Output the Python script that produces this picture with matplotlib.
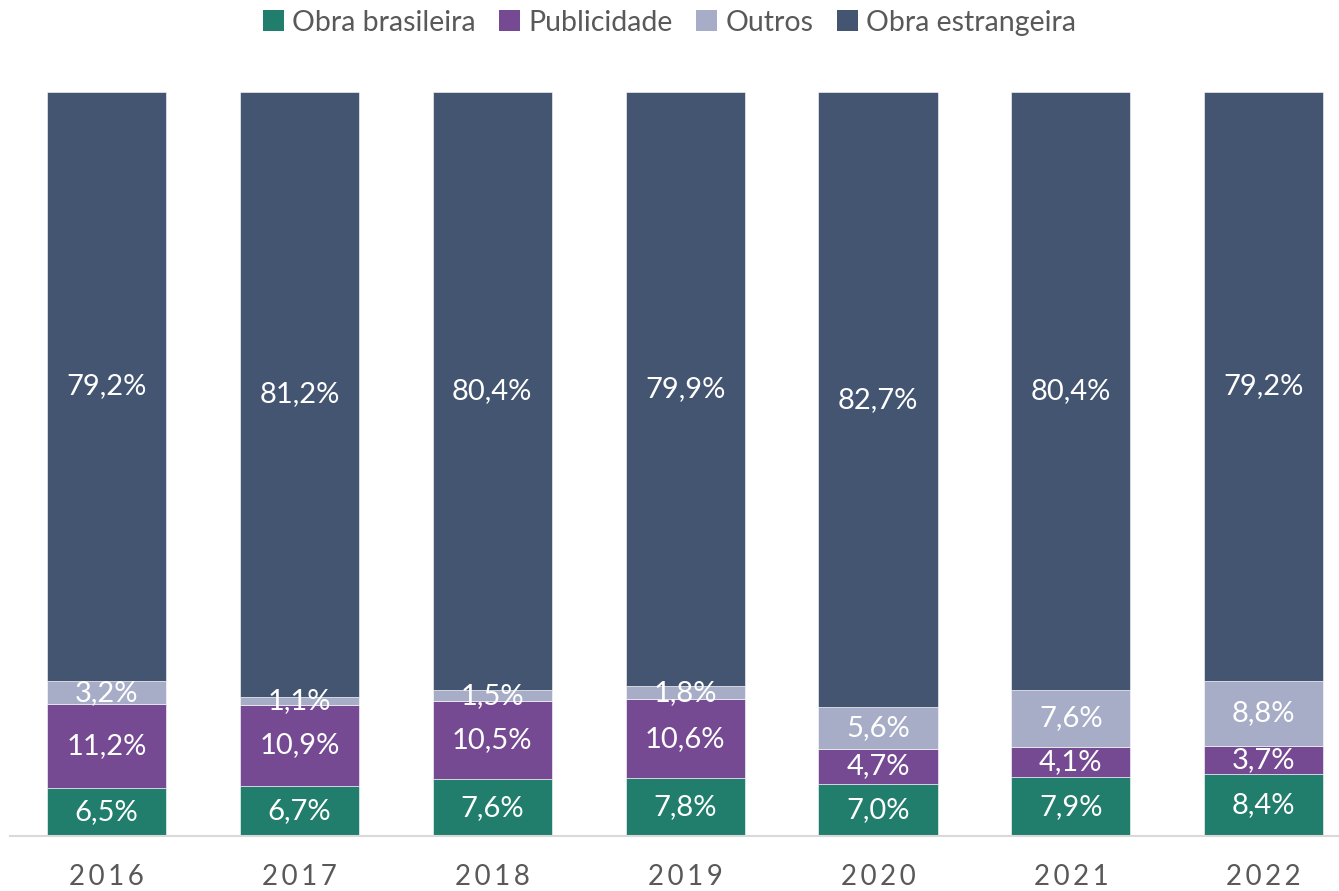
import numpy as np
import matplotlib
matplotlib.use("Agg")
import matplotlib.pyplot as plt
from matplotlib.patches import Patch

plt.rcParams['font.family'] = ['Lato', 'DejaVu Sans']

years = [2016, 2017, 2018, 2019, 2020, 2021, 2022]
series_names = ["Obra brasileira", "Publicidade", "Outros", "Obra estrangeira"]
obra_brasileira = [6.5, 6.7, 7.6, 7.8, 7.0, 7.9, 8.4]
publicidade = [11.2, 10.9, 10.5, 10.6, 4.7, 4.1, 3.7]
outros = [3.2, 1.1, 1.5, 1.8, 5.6, 7.6, 8.8]
obra_estrangeira = [79.2, 81.2, 80.4, 79.9, 82.7, 80.4, 79.2]
colors = ["#217D6C", "#754A92", "#A8ADC7", "#445572"]

fig = plt.figure(figsize=(13.39, 8.91), dpi=100)
ax = fig.add_axes([10 / 1339, 1 - 836 / 891, 1 - 10 / 1339, (836 - 92) / 891])

data = np.array([obra_brasileira, publicidade, outros, obra_estrangeira])
# 100% stacked: scale each year to its total
shares = data / data.sum(axis=0) * 100

x = np.arange(len(years))
bottom = np.zeros(len(years))
for name, vals, share, col in zip(series_names, data, shares, colors):
    ax.bar(x, share, bottom=bottom, width=0.617, color=col, label=name,
           edgecolor="white", linewidth=0.4)
    for xi, b, s, v in zip(x, bottom, share, vals):
        ax.text(xi, b + s / 2, f"{v:.1f}%".replace(".", ","), ha="center",
                va="center", color="white", fontsize=21)
    bottom += share

ax.set_xlim(-0.5, 6.39)
ax.set_ylim(0, 100)
for s in ["top", "right", "left"]:
    ax.spines[s].set_visible(False)
ax.spines["bottom"].set_color("#D9D9D9")
ax.spines["bottom"].set_linewidth(1.5)
ax.set_yticks([])
ax.set_xticks(x)
ax.set_xticklabels(["\u2009".join(str(y)) for y in years], fontsize=20,
                   color="#595959")
ax.tick_params(axis="x", length=0, pad=20)

handles = [Patch(facecolor=c, label=n) for n, c in zip(series_names, colors)]
fig.legend(handles=handles, loc="upper center", bbox_to_anchor=(0.5, 1.018),
           ncol=4, frameon=False, fontsize=20.5, handlelength=0.75,
           handleheight=0.75, handletextpad=0.3, columnspacing=0.8,
           labelcolor="#595959")

fig.savefig("out.png", dpi=100)
